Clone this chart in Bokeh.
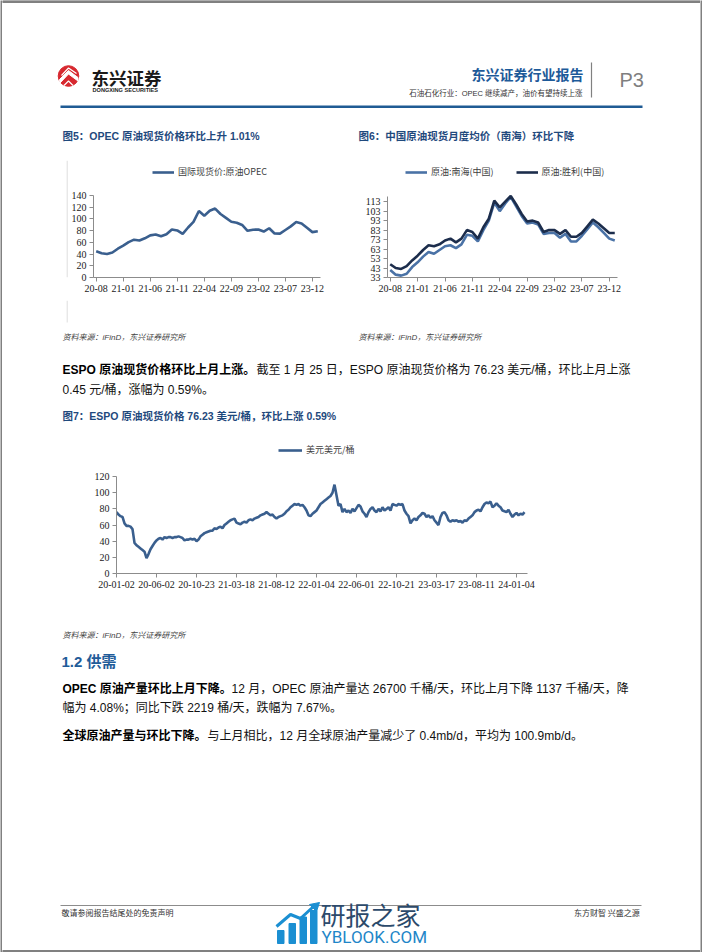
from bokeh.plotting import figure
from bokeh.layouts import row, column
from bokeh.models import Range1d, FixedTicker, Legend, LegendItem
from bokeh.embed import file_html
from bokeh.resources import INLINE
from bokeh.core.properties import value

# ---------------- data ----------------
months = ["20-08", "20-09", "20-10", "20-11", "20-12",
          "21-01", "21-02", "21-03", "21-04", "21-05", "21-06", "21-07", "21-08", "21-09", "21-10", "21-11", "21-12",
          "22-01", "22-02", "22-03", "22-04", "22-05", "22-06", "22-07", "22-08", "22-09", "22-10", "22-11", "22-12",
          "23-01", "23-02", "23-03", "23-04", "23-05", "23-06", "23-07", "23-08", "23-09", "23-10", "23-11", "23-12",
          "24-01"]
opec_price = [44.7, 41.5, 40.1, 42.6, 49.2, 54.4, 60.5, 64.6, 63.2, 66.9, 71.9, 73.5, 70.3, 73.9, 82.1, 80.4,
              74.4, 85.4, 95.0, 113.5, 105.6, 113.9, 117.7, 108.4, 101.9, 95.3, 93.6, 89.7, 79.7, 81.6, 82.0,
              78.5, 84.1, 75.2, 74.9, 81.1, 87.3, 94.6, 92.3, 84.9, 77.5, 79.0]
nanhai = [41, 36, 35, 37, 44, 49, 55, 60, 58, 62, 66, 67, 64, 68, 78, 77, 71, 83, 93, 112, 103, 111, 118,
          108, 98, 90, 91, 89, 79, 80, 80, 75, 79, 71, 71, 77, 84, 91, 86, 80, 74, 72]
shengli = [47, 43, 42, 45, 51, 56, 62, 67, 66, 68, 72, 74, 70, 74, 83, 81, 74, 86, 95, 114, 107, 113, 119,
           110, 100, 92, 93, 91, 81, 83, 83, 79, 83, 76, 76, 80, 87, 94, 90, 85, 80, 80]
month_ticks = [0, 5, 10, 15, 20, 25, 30, 35, 40]
opec_yticks = [0, 20, 40, 60, 80, 100, 120, 140]
cn_yticks = [33, 43, 53, 63, 73, 83, 93, 103, 113]

# ESPO weekly (approx.), one value per week from 2020-01-02
espo_price = [76, 73, 71, 70, 62, 59, 59, 58, 55, 38,
              35, 33, 31, 29, 27, 19, 24, 30, 34, 38,
              41, 43, 44, 42, 45, 44, 45, 45, 44, 45,
              45, 46, 45, 44, 41, 42, 42, 43, 42, 43,
              40, 42, 46, 48, 50, 51, 52, 53, 53, 56,
              55, 57, 58, 56, 60, 62, 64, 66, 67, 68,
              63, 62, 61, 63, 64, 63, 66, 67, 66, 68,
              69, 70, 72, 73, 74, 76, 74, 72, 73, 70,
              68, 70, 71, 72, 74, 77, 79, 82, 84, 86,
              85, 86, 84, 85, 82, 78, 72, 71, 74, 76,
              78, 82, 86, 88, 90, 92, 94, 96, 100, 110,
              97, 84, 86, 76, 80, 76, 78, 75, 80, 77,
              81, 85, 83, 77, 74, 70, 76, 80, 82, 78,
              76, 80, 77, 82, 78, 80, 82, 78, 86, 85,
              84, 86, 85, 86, 78, 74, 71, 62, 66, 68,
              66, 70, 72, 75, 74, 70, 72, 69, 71, 66,
              63, 60, 70, 75, 76, 72, 66, 64, 66, 65,
              66, 64, 65, 63, 66, 65, 68, 70, 72, 76,
              78, 79, 77, 82, 86, 88, 87, 89, 82, 84,
              87, 84, 82, 78, 77, 76, 79, 74, 70, 73,
              75, 72, 74, 73, 76]
espo_week = list(range(len(espo_price)))
espo_tick_pos = [0, 20, 40, 60, 80, 100, 120, 140, 160, 180, 200]
espo_tick_labels = ["20-01-02", "20-06-02", "20-10-23", "21-03-18", "21-08-12", "22-01-04",
                    "22-06-01", "22-10-21", "23-03-17", "23-08-11", "24-01-04"]
espo_yticks = [0, 20, 40, 60, 80, 100, 120]

# ---------------- style helpers ----------------
MIX = "Liberation Sans, Noto Sans CJK SC"
SERIF = "Liberation Serif"
CJK = "Noto Sans CJK SC"
BORDER = "#808080"
TITLE_BLUE = "#1f497d"


def canvas(x0, x1, y0, y1):
    p = figure(width=x1 - x0, height=y1 - y0, x_range=Range1d(x0, x1), y_range=Range1d(y1, y0),
               output_backend="svg", toolbar_location=None, x_axis_type=None, y_axis_type=None,
               min_border=0)
    p.outline_line_color = None
    p.background_fill_color = "white"
    p.border_fill_color = "white"
    return p


def txt(p, x, y, s, size, color="#000000", style="normal", font=MIX, align="left"):
    p.text(x=[x], y=[y], text=[s], text_font=value(font), text_font_size=f"{size}px",
           text_color=color, text_align=align, text_baseline="middle", text_font_style=style)


def chart(width, height, xr, yr, ybounds, bl, br, bt, bb, label_size="10px"):
    # y range extends above the axis so that the legend sits inside the frame;
    # the axis line itself is limited to ybounds
    p = figure(width=width, height=height, x_range=Range1d(*xr), y_range=Range1d(*yr),
               output_backend="svg", toolbar_location=None,
               min_border_left=bl, min_border_right=br, min_border_top=bt, min_border_bottom=bb)
    p.grid.visible = False
    p.outline_line_color = None
    p.yaxis[0].bounds = ybounds
    for ax in (p.xaxis[0], p.yaxis[0]):
        ax.axis_line_color = "#8c8c8c"
        ax.major_tick_line_color = "#8c8c8c"
        ax.major_tick_in = 0
        ax.major_tick_out = 4
        ax.minor_tick_line_color = None
        ax.major_label_text_font = SERIF
        ax.major_label_text_font_size = label_size
        ax.major_label_text_color = "#1a1a1a"
        ax.major_label_standoff = 3
    return p


def legend(p, items, loc, spacing=0, gw=22):
    lg = Legend(items=items, location=loc, orientation="horizontal", border_line_color=None,
                background_fill_alpha=0, padding=0, margin=0, spacing=spacing,
                glyph_width=gw, glyph_height=12, label_height=12, label_standoff=4,
                label_text_font=CJK, label_text_font_size="9px", label_text_color="#404040")
    p.add_layout(lg)


# ---------------- header (page y 0-150) ----------------
head = canvas(2, 700, 0, 150)
head.quad(left=[2], right=[700], top=[0], bottom=[2], color=BORDER)
# logo
head.circle(x=[68], y=[75.5], radius=10.3, color="#d7282f")
head.patch(x=[59, 68, 77.5, 77.5, 68, 59.5], y=[79, 70, 77, 80.5, 73.5, 82.5], color="white")
head.line(x=[61, 68, 76], y=[75, 67.5, 73], line_color="white", line_width=1.2)
head.line(x=[63.5, 68, 72.5], y=[85, 80.5, 85], line_color="white", line_width=1.2)
txt(head, 91, 77, "东兴证券", 17.5, color="#1a1a1a", style="bold", font=CJK)
txt(head, 92, 89, "DONGXING SECURITIES", 5.6, color="#1a1a1a", style="bold")
# right header
txt(head, 583, 73, "东兴证券行业报告", 14, color="#1d5a99", style="bold", font=CJK, align="right")
txt(head, 582, 92.5, "石油石化行业：OPEC 继续减产，油价有望持续上涨", 7.5, color="#333333", align="right")
head.line(x=[591, 591], y=[62, 97], line_color=BORDER, line_width=1.2)
txt(head, 619, 79, "P3", 20, color="#7f7f7f", font="Liberation Sans")
head.line(x=[60, 642], y=[106.3, 106.3], line_color="#1f5b94", line_width=2.5)
# chart titles
txt(head, 62, 135, "图5：OPEC 原油现货价格环比上升 1.01%", 10.5, color=TITLE_BLUE, style="bold")
txt(head, 358, 135, "图6：中国原油现货月度均价（南海）环比下降", 10.5, color=TITLE_BLUE, style="bold")

# ---------------- chart row (page y 150-300) ----------------
c5left = canvas(2, 68, 150, 300)
c5left.line(x=[66.7, 66.7], y=[150, 300], line_color="#dedede", line_width=1)

x_idx = list(range(len(months)))
f5 = chart(283, 150, (-0.5, 41.5), (0, 199.8), (0, 140), 25, 31, 10, 23)
f5.xaxis[0].ticker = FixedTicker(ticks=month_ticks)
f5.xaxis[0].major_label_overrides = {i: months[i] for i in month_ticks}
f5.yaxis[0].ticker = FixedTicker(ticks=opec_yticks)
r5 = f5.line(x_idx, opec_price, line_color="#3a5f8e", line_width=2.6)
legend(f5, [LegendItem(label="国际现货价:原油OPEC", renderers=[r5])], (59, 99))

f6 = chart(349, 150, (-0.5, 41.5), (33, 156.4), (33, 118), 36, 83, 10, 23)
f6.xaxis[0].ticker = FixedTicker(ticks=month_ticks)
f6.xaxis[0].major_label_overrides = {i: months[i] for i in month_ticks}
f6.yaxis[0].ticker = FixedTicker(ticks=cn_yticks)
r6a = f6.line(x_idx, nanhai, line_color="#4a72a6", line_width=2.6)
r6b = f6.line(x_idx, shengli, line_color="#1c2d4c", line_width=2.6)
legend(f6, [LegendItem(label="原油:南海(中国)", renderers=[r6a]),
            LegendItem(label="原油:胜利(中国)", renderers=[r6b])], (18, 99), spacing=22)

# ---------------- middle text (page y 300-430) ----------------
mid = canvas(2, 700, 300, 430)
mid.line(x=[66.7, 66.7], y=[300, 322], line_color="#dedede", line_width=1)
txt(mid, 62, 337, "资料来源：iFinD，东兴证券研究所", 8, color="#444444", style="italic")
txt(mid, 358, 337, "资料来源：iFinD，东兴证券研究所", 8, color="#444444", style="italic")
txt(mid, 62, 369, "ESPO 原油现货价格环比上月上涨。", 12, style="bold")
txt(mid, 256, 369, "截至 1 月 25 日，ESPO 原油现货价格为 76.23 美元/桶，环比上月上涨", 12, color="#111111")
txt(mid, 62, 389, "0.45 元/桶，涨幅为 0.59%。", 12, color="#111111")
txt(mid, 62, 415, "图7：ESPO 原油现货价格 76.23 美元/桶，环比上涨 0.59%", 10.5, color=TITLE_BLUE, style="bold")

# ---------------- chart 7 (page y 430-600) ----------------
f7 = chart(698, 170, (0, 205.5), (0, 164.7), (0, 120), 114, 173, 10, 27, label_size="10px")
f7.xaxis[0].ticker = FixedTicker(ticks=espo_tick_pos)
f7.xaxis[0].major_label_overrides = dict(zip(espo_tick_pos, espo_tick_labels))
f7.yaxis[0].ticker = FixedTicker(ticks=espo_yticks)
r7 = f7.line(espo_week, espo_price, line_color="#3a5f8e", line_width=2.6)
legend(f7, [LegendItem(label="美元美元/桶", renderers=[r7])], (162, 117), gw=24)

# ---------------- bottom text (page y 600-952) ----------------
bot = canvas(2, 700, 600, 952)
txt(bot, 62, 635, "资料来源：iFinD，东兴证券研究所", 8, color="#444444", style="italic")
txt(bot, 61, 661, "1.2 供需", 15, color="#1f5c99", style="bold")
txt(bot, 62, 688, "OPEC 原油产量环比上月下降。", 12, style="bold")
txt(bot, 231, 688, "12 月，OPEC 原油产量达 26700 千桶/天，环比上月下降 1137 千桶/天，降", 12, color="#111111")
txt(bot, 62, 707, "幅为 4.08%；同比下跌 2219 桶/天，跌幅为 7.67%。", 12, color="#111111")
txt(bot, 62, 735, "全球原油产量与环比下降。", 12, style="bold")
txt(bot, 207, 735, "与上月相比，12 月全球原油产量减少了 0.4mb/d，平均为 100.9mb/d。", 12, color="#111111")
# footer
bot.line(x=[60, 641], y=[905, 905], line_color="#8c8c8c", line_width=1)
txt(bot, 61, 912, "敬请参阅报告结尾处的免责声明", 8, color="#333333", font=CJK)
txt(bot, 641, 912, "东方财智  兴盛之源", 8, color="#333333", font=CJK, align="right")
# watermark
bot.quad(left=[277, 288.5, 299.5, 310], right=[283.5, 295, 306, 316.5],
         top=[930, 923, 916.5, 910], bottom=[943, 943, 943, 943], color="#1b8fd2")
bot.line(x=[276, 290, 300, 313], y=[926, 914, 918, 906], line_color="#1b8fd2", line_width=3)
bot.patch(x=[309, 319, 316], y=[904, 902, 911], color="#1b8fd2")
txt(bot, 320, 913, "研报之家", 25, color="#2c4a6b", font=CJK)
txt(bot, 321, 936.5, "YBLOOK.COM", 17, color="#1f86c8", font="Roboto")
bot.quad(left=[2], right=[700], top=[950], bottom=[952], color=BORDER)


# side borders
def strip():
    s = figure(width=2, height=952, x_range=Range1d(0, 1), y_range=Range1d(0, 1),
               output_backend="svg", toolbar_location=None, x_axis_type=None, y_axis_type=None,
               min_border=0)
    s.outline_line_color = None
    s.background_fill_color = BORDER
    s.border_fill_color = BORDER
    return s


page = row(strip(),
           column(head, row(c5left, f5, f6), mid, row(f7), bot),
           strip())

open("out.html", "w").write(file_html(page, INLINE))
